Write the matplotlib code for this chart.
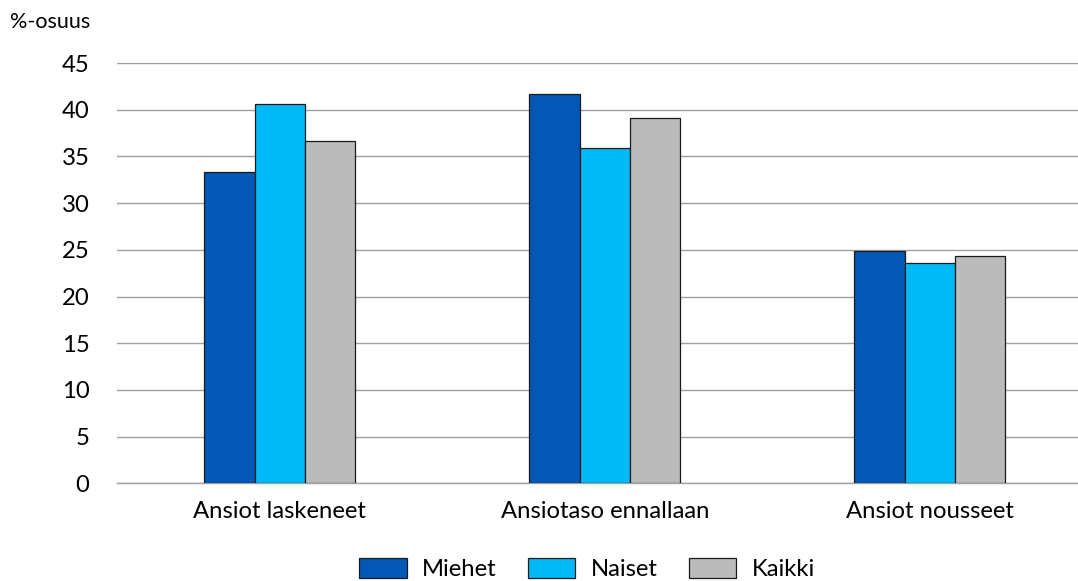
import numpy as np
import matplotlib
matplotlib.use("Agg")
import matplotlib.pyplot as plt

categories = ["Ansiot laskeneet", "Ansiotaso ennallaan", "Ansiot nousseet"]
series_names = ["Miehet", "Naiset", "Kaikki"]
miehet = [33.3, 41.7, 24.9]
naiset = [40.6, 35.9, 23.6]
kaikki = [36.6, 39.1, 24.3]
y_ticks = [0, 5, 10, 15, 20, 25, 30, 35, 40, 45]

colors = ["#0358B6", "#00B9F7", "#BBBBBB"]

plt.rcParams['font.family'] = ['Lato', 'DejaVu Sans']
FS = 17.2

W, H = 1078, 581
fig = plt.figure(figsize=(W / 100, H / 100), dpi=100)

# axes placed in pixel terms: left 117, zero line at 483, top gridline (45) at 63
left, right = 117.3, W
bottom, top = H - 483.3, H - 63
ax = fig.add_axes([left / W, bottom / H, (right - left) / W, (top - bottom) / H])

x = np.arange(len(categories))
width = 0.155
for i, (name, vals) in enumerate(zip(series_names, [miehet, naiset, kaikki])):
    ax.bar(x + (i - 1) * width, vals, width, color=colors[i], edgecolor="#1a1a1a",
           linewidth=0.9, label=name, zorder=3)

ax.set_ylim(0, 45)
ax.set_xlim(-0.5, -0.5 + (right - left) / 325.0)
ax.set_yticks(y_ticks)
ax.set_xticks(x)
ax.set_xticklabels(categories, fontsize=FS)
ax.tick_params(axis="y", length=0, labelsize=FS, pad=20)
ax.tick_params(axis="x", length=0, pad=13)
ax.yaxis.grid(True, color="#A0A0A0", linewidth=1.0, zorder=0)
for s in ["top", "right", "left"]:
    ax.spines[s].set_visible(False)
ax.spines["bottom"].set_color("#A0A0A0")
ax.spines["bottom"].set_linewidth(1.0)

fig.text(10 / W, 1 - 22 / H, "%-osuus", fontsize=15.5, va="center", ha="left")

fig.legend(loc="center", bbox_to_anchor=(587 / W, 1 - 569 / H), ncol=3, frameon=False,
           fontsize=FS, handlelength=1.98, handleheight=0.9, handletextpad=0.65,
           columnspacing=1.3, borderaxespad=0)

fig.savefig("out.png", dpi=100)
